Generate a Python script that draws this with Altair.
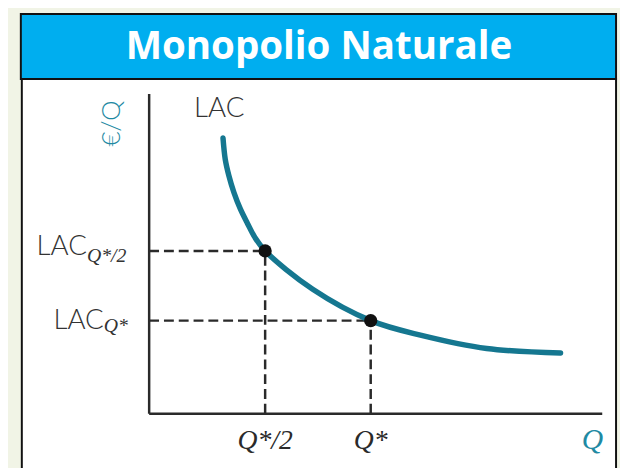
import altair as alt
import pandas as pd

# Curve LAC (Q in arbitrary units, €/Q in arbitrary units)
curve_q = [1.63, 1.68, 1.76, 1.87, 2.01, 2.17, 2.33, 2.56, 3.61, 4.89, 6.01, 7.45, 9.08]
curve_c = [8.62, 7.95, 7.44, 6.92, 6.41, 5.95, 5.52, 5.09, 3.89, 2.91, 2.45, 2.04, 1.90]

# Highlighted points
pt_q = [2.56, 4.89]
pt_c = [5.09, 2.91]
pt_xlabels = ["Q*/2", "Q*"]
pt_ysub = ["Q*/2", "Q*"]

title_text = "Monopolio Naturale"

XS = alt.Scale(domain=[0, 10], range=[143, 602])
YS = alt.Scale(domain=[0, 10], range=[408, 84])

one = pd.DataFrame({"a": [0]})
curve_df = pd.DataFrame({"q": curve_q, "c": curve_c, "i": list(range(len(curve_q)))})
pts_df = pd.DataFrame({"q": pt_q, "c": pt_c, "xl": pt_xlabels, "ys": pt_ysub, "zero": [0, 0]})

teal = "#157790"
ink = "#2a2a2a"

bar = alt.Chart(one).mark_rect(fill="#00AEEF", stroke="#111", strokeWidth=2).encode(
    x=alt.value(13), x2=alt.value(616), y=alt.value(3), y2=alt.value(69))
panel = alt.Chart(one).mark_rect(fill="white", stroke="#111", strokeWidth=2).encode(
    x=alt.value(14), x2=alt.value(616), y=alt.value(69), y2=alt.value(480))
title = alt.Chart(one).mark_text(text=title_text, font="Open Sans", fontWeight="bold",
                                 fontSize=39, color="white", align="center", baseline="middle").encode(
    x=alt.value(315), y=alt.value(37))

axes_df = pd.DataFrame({"x1": [0, 0], "x2": [0, 10], "y1": [0, 0], "y2": [10, 0]})
axes = alt.Chart(axes_df).mark_rule(color=ink, strokeWidth=2.5).encode(
    x=alt.X("x1:Q", scale=XS, axis=None), x2="x2:Q",
    y=alt.Y("y1:Q", scale=YS, axis=None), y2="y2:Q")

hdash = alt.Chart(pts_df).mark_rule(color=ink, strokeWidth=2.5, strokeDash=[10, 5]).encode(
    x=alt.X("zero:Q", scale=XS, axis=None), x2="q:Q",
    y=alt.Y("c:Q", scale=YS, axis=None))
vdash = alt.Chart(pts_df).mark_rule(color=ink, strokeWidth=2.5, strokeDash=[10, 5]).encode(
    x=alt.X("q:Q", scale=XS, axis=None),
    y=alt.Y("zero:Q", scale=YS, axis=None), y2="c:Q")

line = alt.Chart(curve_df).mark_line(color=teal, strokeWidth=5.5, interpolate="catmull-rom",
                                     strokeCap="round").encode(
    x=alt.X("q:Q", scale=XS, axis=None), y=alt.Y("c:Q", scale=YS, axis=None), order="i:Q")

dots = alt.Chart(pts_df).mark_circle(color="#111", size=180, opacity=1).encode(
    x=alt.X("q:Q", scale=XS, axis=None), y=alt.Y("c:Q", scale=YS, axis=None))

xlab = alt.Chart(pts_df).mark_text(font="Liberation Serif", fontStyle="italic", fontSize=28,
                                   color=ink, align="center", baseline="alphabetic").encode(
    x=alt.X("q:Q", scale=XS, axis=None), y=alt.value(444), text="xl:N")

ylab_upper_main = alt.Chart(pts_df.iloc[[0]]).mark_text(font="Lato", fontWeight=300, fontSize=28,
    color="#333", align="right", baseline="alphabetic", dy=4).encode(
    x=alt.value(80), y=alt.Y("c:Q", scale=YS, axis=None), text=alt.value("LAC"))
ylab_upper_sub = alt.Chart(pts_df.iloc[[0]]).mark_text(font="Liberation Serif", fontStyle="italic",
    fontSize=20, color="#333", align="left", baseline="alphabetic", dy=11).encode(
    x=alt.value(80), y=alt.Y("c:Q", scale=YS, axis=None), text="ys:N")
ylab_lower_main = alt.Chart(pts_df.iloc[[1]]).mark_text(font="Lato", fontWeight=300, fontSize=28,
    color="#333", align="right", baseline="alphabetic", dy=8).encode(
    x=alt.value(97), y=alt.Y("c:Q", scale=YS, axis=None), text=alt.value("LAC"))
ylab_lower_sub = alt.Chart(pts_df.iloc[[1]]).mark_text(font="Liberation Serif", fontStyle="italic",
    fontSize=20, color="#333", align="left", baseline="alphabetic", dy=12).encode(
    x=alt.value(97), y=alt.Y("c:Q", scale=YS, axis=None), text="ys:N")

lac_lab = alt.Chart(one).mark_text(text="LAC", font="Lato", fontWeight=300, fontSize=28,
                                   color="#333", align="center", baseline="middle").encode(
    x=alt.value(214), y=alt.value(99))
yaxis_lab = alt.Chart(one).mark_text(text="€/Q", font="Lato", fontWeight=300, fontSize=26,
                                     color="#1f8aa3", align="center", baseline="middle",
                                     angle=270).encode(x=alt.value(105), y=alt.value(114))
xaxis_lab = alt.Chart(one).mark_text(text="Q", font="Liberation Serif", fontStyle="italic",
                                     fontSize=30, color="#1f8aa3", align="center",
                                     baseline="alphabetic").encode(x=alt.value(592), y=alt.value(444))

chart = alt.layer(
    bar, panel, title, hdash, vdash, axes, line, dots, xlab,
    ylab_upper_main, ylab_upper_sub, ylab_lower_main, ylab_lower_sub,
    lac_lab, yaxis_lab, xaxis_lab
).properties(
    width=620, height=460, autosize=alt.AutoSizeParams(type="none"), padding=0,
    background="#F1F4E6"
).configure_view(stroke=None)

chart.save("out.html", embed_options={"renderer": "svg", "actions": False})
